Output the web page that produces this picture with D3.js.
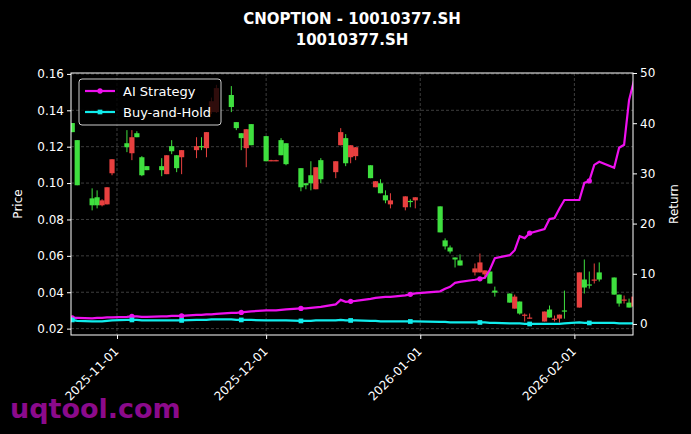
<!DOCTYPE html>
<html lang="en">
<head>
<meta charset="UTF-8">
<script src="https://d3js.org/d3.v7.min.js"></script>
<style>
    body { margin: 0; background: #000; }
    svg { display: block; font-family: "DejaVu Sans", sans-serif; }
</style>
<title>CNOPTION</title>
</head>
<body>
<svg id="chart" width="691" height="434"></svg>
<script>
    // Trading days.
    const dates = [
        '2025-10-23', '2025-10-24', '2025-10-27', '2025-10-28', '2025-10-29', '2025-10-30', '2025-10-31',
        '2025-11-03', '2025-11-04', '2025-11-05', '2025-11-06', '2025-11-07', '2025-11-10', '2025-11-11',
        '2025-11-12', '2025-11-13', '2025-11-14', '2025-11-17', '2025-11-18', '2025-11-19', '2025-11-20',
        '2025-11-21', '2025-11-24', '2025-11-25', '2025-11-26', '2025-11-27', '2025-11-28', '2025-12-01',
        '2025-12-02', '2025-12-03', '2025-12-04', '2025-12-05', '2025-12-08', '2025-12-09', '2025-12-10',
        '2025-12-11', '2025-12-12', '2025-12-15', '2025-12-16', '2025-12-17', '2025-12-18', '2025-12-19',
        '2025-12-22', '2025-12-23', '2025-12-24', '2025-12-25', '2025-12-26', '2025-12-29', '2025-12-30',
        '2025-12-31', '2026-01-05', '2026-01-06', '2026-01-07', '2026-01-08', '2026-01-09', '2026-01-12',
        '2026-01-13', '2026-01-14', '2026-01-15', '2026-01-16', '2026-01-19', '2026-01-20', '2026-01-21',
        '2026-01-22', '2026-01-23', '2026-01-26', '2026-01-27', '2026-01-28', '2026-01-29', '2026-01-30',
        '2026-02-02', '2026-02-03', '2026-02-04', '2026-02-05', '2026-02-06', '2026-02-09', '2026-02-10',
        '2026-02-11', '2026-02-12', '2026-02-13'
    ];

    const open = [
        .1330, .1236, .0916, .0922, .0878, .0883, .1054, .1219, .1164, .1274, .1142, .1093, .1093, .1049,
        .1203, .1153, .1142, .1181, .1203, .1192, .1390, .1390, .1484, .1335, .1274, .1192, .1324, .1258,
        .1124, .1124, .1236, .1219, .1082, .0999, .1043, .0966, .1126, .1060, .1208, .1247, .1142, .1148,
        .1098, .0977, .0999, .0933, .0883, .0867, .0902, .0905, .0872, .0685, .0646, .0591, .0575, .0509,
        .0509, .0498, .0514, .0409, .0393, .0310, .0349, .0276, .0260, .0239, .0305, .0254, .0255, .0300,
        .0316, .0470, .0443, .0469, .0509, .0481, .0387, .0359, .0343, .0321
    ];
    const high = [
        .1330, .1236, .0971, .0960, .0911, .0977, .1131, .1291, .1291, .1285, .1148, .1093, .1137, .1153,
        .1236, .1153, .1181, .1252, .1252, .1280, .1470, .1540, .1533, .1335, .1274, .1296, .1324, .1258,
        .1128, .1128, .1247, .1219, .1082, .0999, .1120, .1087, .1137, .1120, .1302, .1269, .1208, .1197,
        .1098, .1010, .1021, .0960, .0944, .0927, .0911, .0922, .0872, .0696, .0657, .0591, .0608, .0558,
        .0613, .0520, .0514, .0431, .0393, .0387, .0349, .0283, .0283, .0294, .0327, .0272, .0277, .0409,
        .0509, .0580, .0514, .0558, .0564, .0481, .0387, .0382, .0365, .0376
    ];
    const low = [
        .1280, .0988, .0850, .0861, .0872, .0883, .1043, .1170, .1126, .1252, .1038, .1071, .1038, .1049,
        .1159, .1060, .1049, .1137, .1181, .1142, .1380, .1385, .1390, .1291, .1181, .1087, .1208, .1120,
        .1120, .1120, .1153, .1098, .0955, .0966, .0960, .0966, .0999, .1027, .1208, .1093, .1109, .1126,
        .1027, .0977, .0944, .0889, .0861, .0850, .0867, .0861, .0729, .0635, .0613, .0536, .0547, .0492,
        .0509, .0476, .0448, .0376, .0343, .0310, .0277, .0239, .0255, .0239, .0261, .0239, .0233, .0255,
        .0316, .0393, .0420, .0448, .0459, .0387, .0321, .0338, .0316, .0321
    ];
    const close = [
        .1280, .0988, .0878, .0878, .0905, .0977, .1131, .1197, .1252, .1252, .1043, .1071, .1071, .1153,
        .1175, .1082, .1181, .1203, .1200, .1280, .1450, .1522, .1418, .1302, .1247, .1296, .1208, .1120,
        .1126, .1126, .1153, .1104, .0977, .0988, .0999, .1087, .1021, .1120, .1280, .1109, .1208, .1197,
        .1027, .1010, .0944, .0905, .0905, .0927, .0900, .0922, .0729, .0652, .0624, .0580, .0547, .0531,
        .0564, .0520, .0448, .0398, .0343, .0376, .0283, .0277, .0261, .0294, .0261, .0255, .0277, .0299,
        .0509, .0426, .0442, .0470, .0470, .0387, .0338, .0360, .0316, .0376
    ];

    // Cumulative returns.
    const aiStrategy = [
        1.2, 1.2, 1.1, 1.2, 1.2, 1.3, 1.3, 1.4, 1.5, 1.5, 1.4, 1.4, 1.5, 1.5, 1.6, 1.6, 1.6, 1.8, 1.8, 1.9,
        1.9, 2.0, 2.2, 2.2, 2.3, 2.4, 2.5, 2.7, 2.7, 2.7, 2.8, 2.9, 3.1, 3.1, 3.2, 3.3, 3.4, 3.9, 4.8, 4.4,
        4.5, 4.6, 5.0, 5.2, 5.3, 5.4, 5.4, 5.7, 5.9, 6.1, 6.5, 7.0, 7.4, 8.2, 8.4, 8.8, 9.0, 9.2, 10.8, 13.1,
        13.7, 14.7, 17.5, 17.1, 18.1, 18.9, 20.9, 21.1, 23.0, 24.7, 24.7, 28.1, 28.5, 31.7, 32.3, 31.1, 35.1,
        35.7, 44.6, 48.5
    ];
    const buyHold = [
        0.8, 0.6, 0.5, 0.5, 0.5, 0.6, 0.7, 0.8, 0.8, 0.8, 0.7, 0.7, 0.7, 0.7, 0.7, 0.7, 0.7, 0.8, 0.8, 0.8,
        0.9, 0.9, 0.9, 0.8, 0.8, 0.8, 0.8, 0.7, 0.7, 0.7, 0.7, 0.7, 0.6, 0.6, 0.6, 0.7, 0.7, 0.7, 0.8, 0.7,
        0.7, 0.7, 0.6, 0.6, 0.5, 0.5, 0.5, 0.5, 0.5, 0.5, 0.4, 0.4, 0.3, 0.3, 0.3, 0.3, 0.3, 0.3, 0.2, 0.2,
        0.1, 0.1, 0.1, 0.0, 0.0, 0.0, 0.0, 0.0, 0.0, 0.1, 0.3, 0.2, 0.2, 0.2, 0.2, 0.2, 0.1, 0.1, 0.1, 0.1
    ];

    const priceTicks = [0.02, 0.04, 0.06, 0.08, 0.10, 0.12, 0.14, 0.16];
    const returnTicks = [0, 10, 20, 30, 40, 50];
    const dateTicks = ['2025-11-01', '2025-12-01', '2026-01-01', '2026-02-01'];

    const parse = d3.timeParse('%Y-%m-%d');
    const rows = dates.map((d, i) => ({
        date: parse(d), o: open[i], h: high[i], l: low[i], c: close[i],
        ai: aiStrategy[i], bh: buyHold[i]
    }));

    const svg = d3.select('#chart');
    const m = {left: 71, right: 633, top: 73, bottom: 335};

    const x = d3.scaleTime()
        .domain([new Date(2025, 9, 22, 18), new Date(2026, 1, 12, 19)])
        .range([m.left, m.right]);
    const y = d3.scaleLinear().domain([0.0165, 0.1605]).range([m.bottom, m.top]);
    const yR = d3.scaleLinear().domain([-2.2, 50]).range([m.bottom, m.top]);

    svg.append('rect').attr('width', 691).attr('height', 434).attr('fill', '#000');

    // Title.
    svg.append('text').attr('x', 352).attr('y', 24).attr('text-anchor', 'middle')
        .attr('fill', '#fff').attr('font-size', 15).attr('font-weight', 'bold')
        .text('CNOPTION - 10010377.SH');
    svg.append('text').attr('x', 352).attr('y', 45).attr('text-anchor', 'middle')
        .attr('fill', '#fff').attr('font-size', 15).attr('font-weight', 'bold')
        .text('10010377.SH');

    // Grid.
    const grid = svg.append('g').attr('stroke', '#666').attr('stroke-dasharray', '3,2')
        .attr('stroke-width', 0.6);
    priceTicks.forEach(t => grid.append('line')
        .attr('x1', m.left).attr('x2', m.right).attr('y1', y(t)).attr('y2', y(t)));
    dateTicks.forEach(t => grid.append('line')
        .attr('x1', x(parse(t))).attr('x2', x(parse(t))).attr('y1', m.top).attr('y2', m.bottom));

    svg.append('clipPath').attr('id', 'plot').append('rect')
        .attr('x', m.left).attr('y', m.top).attr('width', m.right - m.left).attr('height', m.bottom - m.top);
    const plot = svg.append('g').attr('clip-path', 'url(#plot)');

    // Candles: red when closing up, green when closing down.
    const colour = d => d.c >= d.o ? '#e8403f' : '#3fe03f';
    plot.selectAll('.wick').data(rows).join('line')
        .attr('x1', d => x(d.date)).attr('x2', d => x(d.date))
        .attr('y1', d => y(d.h)).attr('y2', d => y(d.l))
        .attr('stroke', colour).attr('stroke-width', 1);
    plot.selectAll('.body').data(rows).join('rect')
        .attr('x', d => x(d.date) - 2.6).attr('width', 5.2)
        .attr('y', d => y(Math.max(d.o, d.c)))
        .attr('height', d => Math.max(1.2, Math.abs(y(d.o) - y(d.c))))
        .attr('fill', colour);

    // Return lines.
    const lines = [
        {key: 'ai', name: 'AI Strategy', colour: '#ee10ee', shape: d3.symbolCircle},
        {key: 'bh', name: 'Buy-and-Hold', colour: '#10ecec', shape: d3.symbolSquare}
    ];
    lines.forEach(s => {
        plot.append('path').datum(rows)
            .attr('d', d3.line().x(d => x(d.date)).y(d => yR(d[s.key])))
            .attr('fill', 'none').attr('stroke', s.colour).attr('stroke-width', 2.2);
        plot.selectAll(null).data(rows.filter((d, i) => i % 8 === 0)).join('path')
            .attr('d', d3.symbol().type(s.shape).size(22))
            .attr('transform', d => `translate(${x(d.date)},${yR(d[s.key])})`)
            .attr('fill', s.colour);
    });

    // Frame and axes.
    svg.append('rect').attr('x', m.left).attr('y', m.top)
        .attr('width', m.right - m.left).attr('height', m.bottom - m.top)
        .attr('fill', 'none').attr('stroke', '#fff').attr('stroke-width', 1);

    const styleAxis = g => {
        g.select('.domain').remove();
        g.selectAll('line').attr('stroke', '#fff');
        g.selectAll('text').attr('fill', '#fff').attr('font-size', 12)
            .attr('font-family', '"DejaVu Sans", sans-serif');
    };
    svg.append('g').attr('transform', `translate(${m.left},0)`)
        .call(d3.axisLeft(y).tickValues(priceTicks).tickFormat(d3.format('.2f')).tickSize(4))
        .call(styleAxis);
    svg.append('g').attr('transform', `translate(${m.right},0)`)
        .call(d3.axisRight(yR).tickValues(returnTicks).tickSize(4))
        .call(styleAxis);
    svg.append('g').attr('transform', `translate(0,${m.bottom})`)
        .call(d3.axisBottom(x).tickValues(dateTicks.map(parse))
            .tickFormat(d3.timeFormat('%Y-%m-%d')).tickSize(4))
        .call(styleAxis)
        .selectAll('text')
        .attr('x', 0).attr('y', 0).attr('dy', '0.35em')
        .attr('text-anchor', 'end')
        .attr('transform', 'translate(-1,14) rotate(-45)');

    svg.append('text').attr('transform', 'translate(22,204) rotate(-90)')
        .attr('text-anchor', 'middle').attr('fill', '#fff').attr('font-size', 12).text('Price');
    svg.append('text').attr('transform', 'translate(678,204) rotate(-90)')
        .attr('text-anchor', 'middle').attr('fill', '#fff').attr('font-size', 12).text('Return');

    // Legend.
    const legend = svg.append('g').attr('transform', 'translate(79,79)');
    legend.append('rect').attr('width', 142).attr('height', 46).attr('rx', 3)
        .attr('fill', '#000').attr('fill-opacity', 0.8).attr('stroke', '#ccc');
    lines.forEach((s, i) => {
        const cy = 12 + i * 21;
        legend.append('line').attr('x1', 6).attr('x2', 36).attr('y1', cy).attr('y2', cy)
            .attr('stroke', s.colour).attr('stroke-width', 2.2);
        legend.append('path').attr('d', d3.symbol().type(s.shape).size(22)())
            .attr('transform', `translate(21,${cy})`).attr('fill', s.colour);
        legend.append('text').attr('x', 44).attr('y', cy + 4.5).attr('fill', '#fff')
            .attr('font-size', 13).text(s.name);
    });

    // Watermark.
    svg.append('text').attr('x', 10).attr('y', 418).attr('fill', '#8b0a8b')
        .attr('font-size', 27).attr('font-weight', 'bold').text('uqtool.com');
</script>
</body>
</html>
